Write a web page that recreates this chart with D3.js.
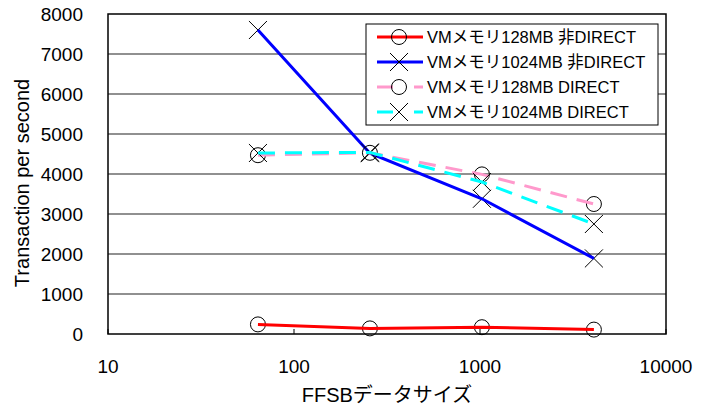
<!DOCTYPE html>
<html>
<head>
<meta charset="utf-8">
<script src="https://cdn.jsdelivr.net/npm/d3@7"></script>
<style>
  body { margin: 0; background: #fff; }
  text { font-family: "Liberation Sans", "Noto Sans CJK JP", sans-serif; fill: #000; }
</style>
</head>
<body>
<div id="chart"></div>
<script>
// FFSB data size (x) and transactions per second for each VM config
var sizes      = [64, 256, 1024, 4096];
var mem128nd   = [240, 140, 170, 110];
var mem1024nd  = [7600, 4520, 3380, 1890];
var mem128d    = [4470, 4530, 3990, 3250];
var mem1024d   = [4525, 4540, 3800, 2750];
var seriesNames = ["VMメモリ128MB 非DIRECT", "VMメモリ1024MB 非DIRECT", "VMメモリ128MB DIRECT", "VMメモリ1024MB DIRECT"];
var xTicks = [10, 100, 1000, 10000];
var yTicks = [0, 1000, 2000, 3000, 4000, 5000, 6000, 7000, 8000];

// note: "top" is reserved on window, so use pTop etc.
var width = 709, height = 410
  , pLeft = 108, pRight = 666, pTop = 14, pBottom = 334;

var svg = d3.select("#chart").append("svg").attr("width", width).attr("height", height);

var x = d3.scaleLog().domain([10, 10000]).range([pLeft, pRight]);
var y = d3.scaleLinear().domain([0, 8000]).range([pBottom, pTop]);

// gridlines
svg.append("g").selectAll("line").data(yTicks.slice(1, -1)).join("line")
  .attr("x1", pLeft).attr("x2", pRight)
  .attr("y1", function (d) { return y(d); }).attr("y2", function (d) { return y(d); })
  .attr("stroke", "#222").attr("stroke-width", 1.2);

// small ticks on the bottom axis
svg.append("g").selectAll("line").data(xTicks).join("line")
  .attr("x1", function (d) { return x(d); }).attr("x2", function (d) { return x(d); })
  .attr("y1", pBottom).attr("y2", pBottom - 5)
  .attr("stroke", "#000").attr("stroke-width", 1);

// y tick labels
svg.append("g").selectAll("text").data(yTicks).join("text")
  .attr("x", 83).attr("y", function (d) { return y(d) + 7; })
  .attr("text-anchor", "end").attr("font-size", 19)
  .text(function (d) { return d; });

// x tick labels
svg.append("g").selectAll("text").data(xTicks).join("text")
  .attr("x", function (d) { return x(d); }).attr("y", 373)
  .attr("text-anchor", "middle").attr("font-size", 19)
  .text(function (d) { return d; });

// axis titles
svg.append("text").attr("transform", "translate(29,183) rotate(-90)")
  .attr("text-anchor", "middle").attr("font-size", 20)
  .text("Transaction per second");
svg.append("text").attr("x", (pLeft + pRight) / 2).attr("y", 402)
  .attr("text-anchor", "middle").attr("font-size", 20)
  .text("FFSBデータサイズ");

var series = [
  { name: seriesNames[0], values: mem128nd,  color: "#ff0000", dash: null,    marker: "circle" },
  { name: seriesNames[1], values: mem1024nd, color: "#0000ff", dash: null,    marker: "x" },
  { name: seriesNames[2], values: mem128d,   color: "#ff99cc", dash: "17,10", marker: "circle" },
  { name: seriesNames[3], values: mem1024d,  color: "#00ffff", dash: "17,10", marker: "x" }
];

var line = d3.line()
  .x(function (d) { return x(d[0]); })
  .y(function (d) { return y(d[1]); });

function drawMarker(g, kind, cx, cy) {
  if (kind === "circle") {
    g.append("circle").attr("cx", cx).attr("cy", cy).attr("r", 7.5)
      .attr("fill", "none").attr("stroke", "#000").attr("stroke-width", 1);
  } else {
    g.append("path")
      .attr("d", "M" + (cx - 9) + "," + (cy - 9) + "L" + (cx + 9) + "," + (cy + 9) +
                 "M" + (cx - 9) + "," + (cy + 9) + "L" + (cx + 9) + "," + (cy - 9))
      .attr("stroke", "#000").attr("stroke-width", 1).attr("fill", "none");
  }
}

var plot = svg.append("g");
series.forEach(function (s) {
  var pts = sizes.map(function (v, i) { return [v, s.values[i]]; });
  var g = plot.append("g");
  pts.forEach(function (p) { drawMarker(g, s.marker, x(p[0]), y(p[1])); });
  g.append("path").datum(pts).attr("d", line)
    .attr("fill", "none").attr("stroke", s.color).attr("stroke-width", 3)
    .attr("stroke-dasharray", s.dash);
});

// plot border
svg.append("rect").attr("x", pLeft).attr("y", pTop)
  .attr("width", pRight - pLeft).attr("height", pBottom - pTop)
  .attr("fill", "none").attr("stroke", "#000").attr("stroke-width", 1.5);

// legend
var lg = svg.append("g");
lg.append("rect").attr("x", 366).attr("y", 24).attr("width", 292).attr("height", 101)
  .attr("fill", "#fff").attr("stroke", "#000").attr("stroke-width", 1);
series.forEach(function (s, i) {
  var cy = 37 + i * 25;
  lg.append("line").attr("x1", 377).attr("x2", 423).attr("y1", cy).attr("y2", cy)
    .attr("stroke", s.color).attr("stroke-width", 3)
    .attr("stroke-dasharray", s.dash ? "16,21" : null);
  drawMarker(lg, s.marker, 399, cy);
  lg.append("text").attr("x", 427).attr("y", cy + 6).attr("font-size", 16.5).text(s.name);
});
</script>
</body>
</html>
